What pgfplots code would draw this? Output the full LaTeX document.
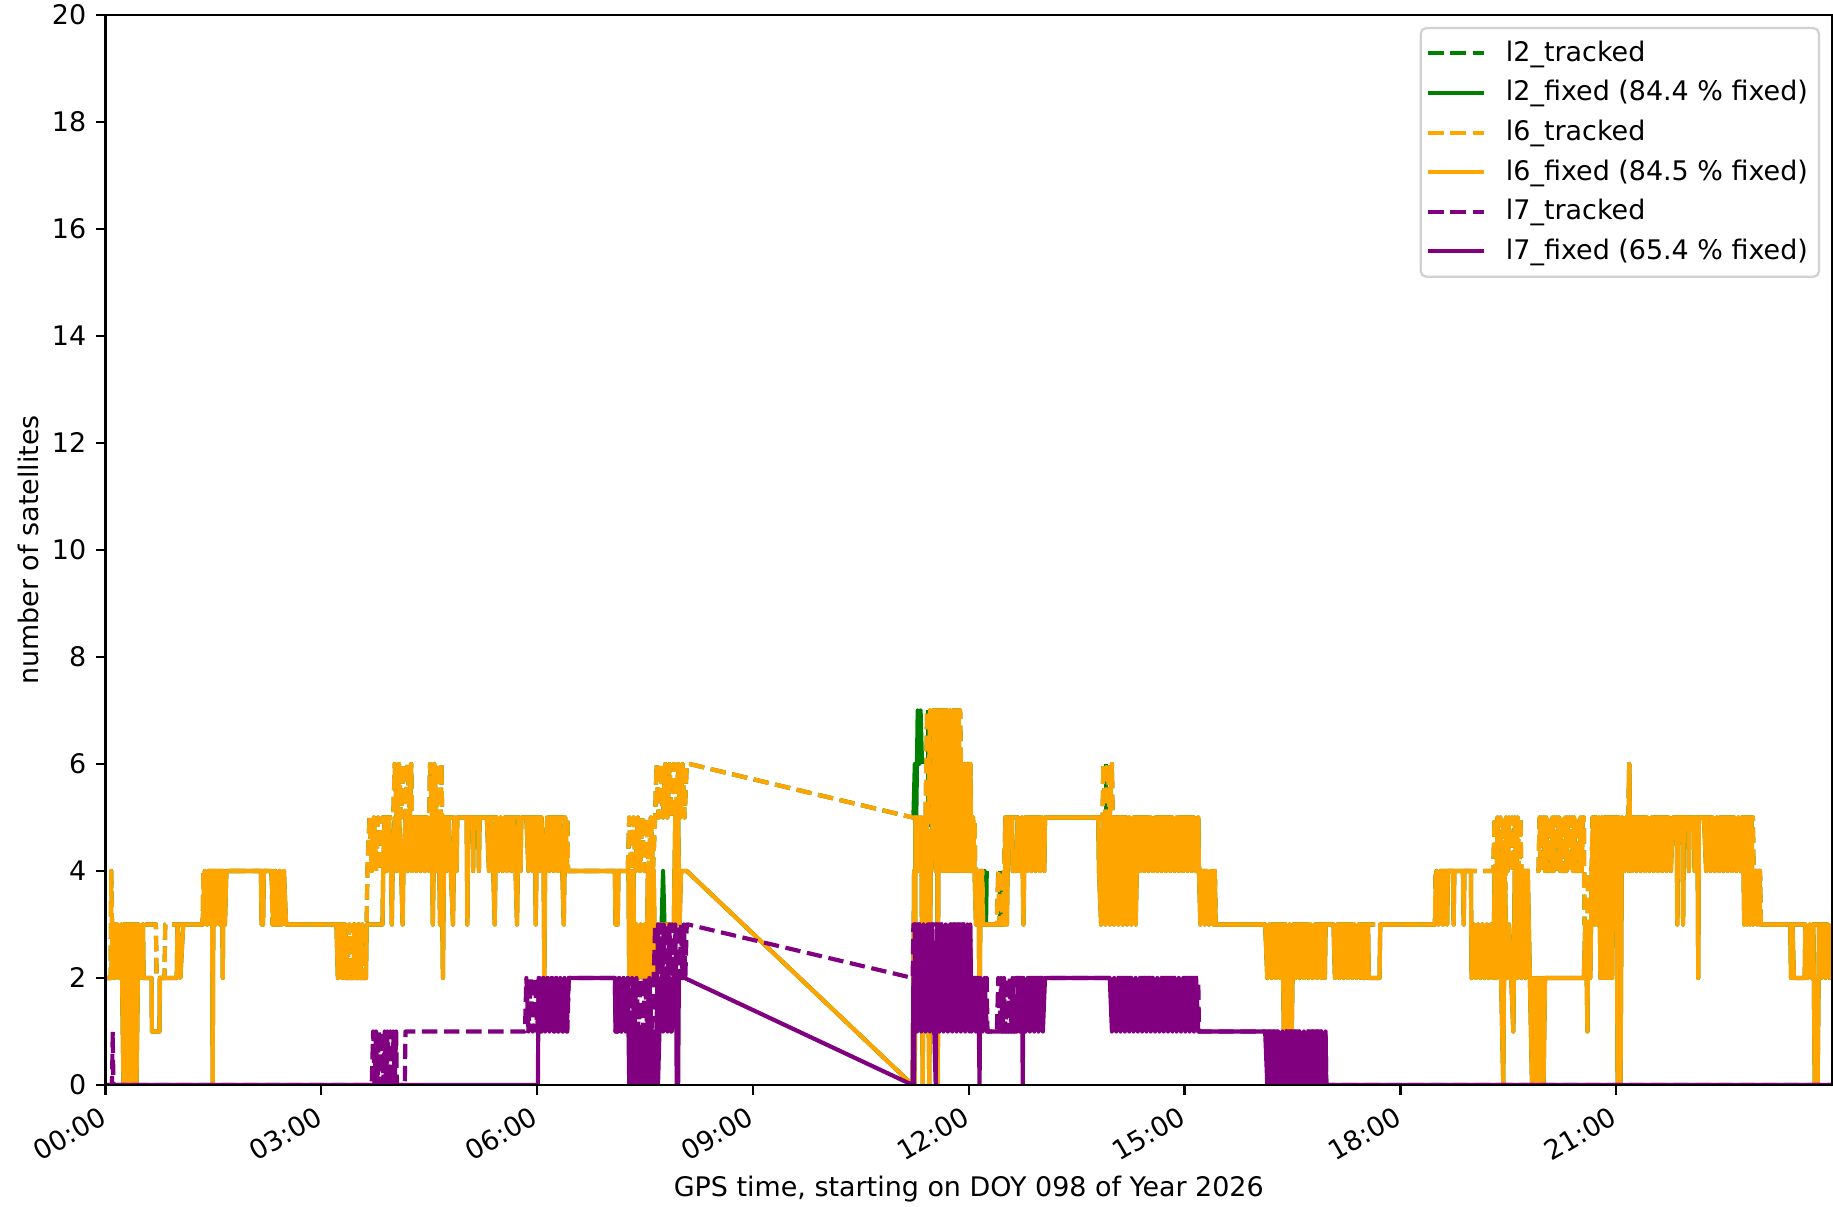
\documentclass[border=0pt]{standalone}
\usepackage{fontspec}
\setmainfont{DejaVu Sans}
\usepackage{pgfplots}
\usepackage{pgfplotstable}
\pgfplotsset{compat=1.18}

\definecolor{mplgreen}{RGB}{0,128,0}
\definecolor{mplorange}{RGB}{255,165,0}
\definecolor{mplpurple}{RGB}{128,0,128}

% hours since 00:00, number of satellites
% l6 fixed
\pgfplotstableread[row sep=\\]{
x y\\
0.00 2\\ 0.08 2\\ 0.10 3\\ 0.13 2\\ 0.16 3\\ 0.19 2\\ 0.22 3\\ 0.25 0\\ 0.28 3\\ 0.31 0\\ 0.34 3\\ 0.37 0\\ 0.40 3\\ 0.43 0\\ 0.46 3\\ 0.49 2\\ 0.52 3\\ 0.53 2\\
0.64 2\\ 0.645 1\\ 0.75 1\\ 0.755 2\\ 0.99 2\\ 1.00 3\\ 1.04 2\\ 1.08 3\\ 1.35 3\\
1.38 4\\ 1.41 3\\ 1.44 4\\ 1.47 3\\ 1.48 4\\ 1.49 0\\ 1.50 4\\ 1.53 3\\ 1.56 4\\ 1.59 3\\ 1.62 4\\ 1.63 2\\ 1.64 4\\ 1.66 3\\ 1.68 4\\
2.16 4\\ 2.17 3\\ 2.19 3\\ 2.20 4\\ 2.31 4\\ 2.33 3\\ 2.36 4\\ 2.39 3\\ 2.42 4\\ 2.45 3\\ 2.48 4\\ 2.51 3\\
3.21 3\\ 3.23 2\\ 3.26 3\\ 3.29 2\\ 3.32 3\\ 3.33 2\\ 3.45 2\\ 3.46 3\\ 3.47 2\\ 3.52 2\\ 3.53 3\\ 3.54 2\\ 3.62 2\\ 3.63 3\\ 3.85 3\\
3.86 4\\ 3.88 5\\ 3.91 4\\ 3.94 5\\ 3.97 4\\ 3.98 3\\ 3.99 4\\ 4.02 5\\ 4.05 4\\ 4.08 5\\ 4.11 4\\ 4.13 3\\ 4.14 4\\ 4.17 5\\ 4.20 4\\ 4.23 5\\ 4.26 4\\ 4.29 5\\ 4.32 4\\ 4.35 5\\
4.38 4\\ 4.41 5\\ 4.44 4\\ 4.47 5\\ 4.50 4\\ 4.53 5\\ 4.55 3\\ 4.57 5\\ 4.60 4\\ 4.63 5\\ 4.65 3\\ 4.67 5\\ 4.69 2\\ 4.71 5\\ 4.74 4\\ 4.77 5\\ 4.80 4\\ 4.83 3\\ 4.85 5\\ 4.88 4\\ 4.89 5\\
5.02 5\\ 5.03 3\\ 5.04 5\\ 5.10 5\\ 5.11 4\\ 5.12 5\\ 5.18 5\\ 5.19 4\\ 5.20 5\\ 5.30 5\\
5.33 4\\ 5.36 5\\ 5.39 4\\ 5.41 3\\ 5.43 5\\ 5.46 4\\ 5.49 5\\ 5.52 4\\ 5.55 5\\ 5.58 4\\ 5.61 5\\ 5.64 4\\ 5.67 5\\ 5.70 4\\ 5.72 3\\ 5.74 5\\ 5.77 4\\ 5.78 5\\ 5.85 5\\
5.88 4\\ 5.91 5\\ 5.94 4\\ 5.97 5\\ 5.98 3\\ 6.00 5\\ 6.03 4\\ 6.06 5\\ 6.09 4\\ 6.10 2\\ 6.11 4\\ 6.14 5\\ 6.17 4\\ 6.20 5\\ 6.23 4\\ 6.26 5\\ 6.29 4\\ 6.32 5\\ 6.35 4\\ 6.37 3\\ 6.39 5\\ 6.42 4\\
7.08 4\\ 7.09 3\\ 7.12 3\\ 7.13 4\\ 7.27 4\\ 7.28 2\\ 7.30 4\\ 7.32 2\\ 7.34 4\\ 7.35 2\\ 7.38 3\\ 7.41 2\\ 7.44 3\\ 7.47 2\\ 7.50 3\\ 7.52 2\\ 7.54 4\\ 7.56 2\\ 7.58 4\\ 7.60 2\\ 7.62 4\\ 7.64 2\\ 7.66 3\\
7.90 3\\ 7.92 5\\ 7.94 3\\ 7.96 5\\ 7.98 3\\ 8.00 4\\ 8.08 4\\
11.22 0\\ 11.24 4\\ 11.25 0\\ 11.26 5\\ 11.28 4\\ 11.30 5\\ 11.32 4\\ 11.34 5\\ 11.36 0\\ 11.38 5\\ 11.40 4\\ 11.42 5\\ 11.45 0\\ 11.47 4\\ 11.50 5\\
11.52 7\\ 11.54 4\\ 11.56 7\\ 11.57 0\\ 11.58 7\\ 11.60 4\\ 11.62 7\\ 11.64 4\\ 11.66 7\\ 11.68 4\\ 11.70 7\\ 11.72 4\\ 11.74 7\\ 11.76 4\\ 11.78 7\\ 11.80 4\\ 11.82 7\\ 11.84 4\\ 11.86 7\\ 11.88 4\\
11.90 6\\ 11.92 4\\ 11.94 6\\ 11.96 4\\ 11.98 6\\ 12.00 4\\ 12.02 6\\ 12.04 4\\ 12.06 5\\ 12.08 4\\
12.10 3\\ 12.12 4\\ 12.14 3\\ 12.15 1\\ 12.16 3\\ 12.18 4\\ 12.20 3\\ 12.50 3\\ 12.51 5\\ 12.53 3\\ 12.55 5\\ 12.60 5\\ 12.61 4\\ 12.66 4\\
12.68 5\\ 12.71 4\\ 12.74 5\\ 12.76 3\\ 12.78 5\\ 12.81 4\\ 12.84 5\\ 12.87 4\\ 12.90 5\\ 12.93 4\\ 12.96 5\\ 12.99 4\\ 13.02 5\\ 13.05 4\\ 13.06 5\\
13.80 5\\ 13.81 4\\ 13.84 3\\ 13.87 5\\ 13.90 3\\ 13.93 5\\ 13.96 3\\ 13.99 5\\ 14.02 3\\ 14.05 5\\ 14.08 3\\ 14.11 5\\ 14.14 3\\ 14.17 5\\ 14.20 3\\ 14.23 5\\ 14.26 3\\ 14.29 5\\ 14.32 3\\ 14.35 5\\
14.38 4\\ 14.41 5\\ 14.44 4\\ 14.47 5\\ 14.50 4\\ 14.53 5\\ 14.56 4\\ 14.59 5\\ 14.62 4\\ 14.65 5\\ 14.68 4\\ 14.71 5\\ 14.74 4\\ 14.77 5\\ 14.80 4\\ 14.83 5\\ 14.86 4\\ 14.89 5\\
14.92 4\\ 14.95 5\\ 14.98 4\\ 15.01 5\\ 15.04 4\\ 15.07 5\\ 15.10 4\\ 15.13 5\\ 15.16 4\\ 15.19 5\\
15.20 4\\ 15.22 3\\ 15.25 4\\ 15.28 3\\ 15.31 4\\ 15.34 3\\ 15.37 4\\ 15.40 3\\ 15.42 4\\ 15.43 3\\ 16.12 3\\
16.15 2\\ 16.18 3\\ 16.21 2\\ 16.24 3\\ 16.27 2\\ 16.30 3\\ 16.33 2\\ 16.36 3\\ 16.38 1\\ 16.40 3\\ 16.42 2\\ 16.44 1\\ 16.46 3\\ 16.49 1\\ 16.51 3\\ 16.54 2\\ 16.57 3\\ 16.60 2\\
16.63 3\\ 16.66 2\\ 16.69 3\\ 16.72 2\\ 16.75 3\\ 16.78 2\\ 16.81 3\\ 16.84 2\\ 16.87 3\\ 16.90 2\\ 16.93 3\\ 16.95 2\\ 16.96 3\\
17.07 3\\ 17.09 2\\ 17.12 3\\ 17.15 2\\ 17.18 3\\ 17.21 2\\ 17.24 3\\ 17.27 2\\ 17.30 3\\ 17.33 2\\ 17.36 3\\ 17.39 2\\ 17.42 3\\ 17.45 2\\ 17.47 3\\ 17.48 2\\ 17.51 2\\ 17.52 3\\ 17.55 3\\ 17.56 2\\ 17.71 2\\ 17.72 3\\
18.48 3\\ 18.50 4\\ 18.53 3\\ 18.56 4\\ 18.59 3\\ 18.62 4\\ 18.65 3\\ 18.66 4\\ 18.73 4\\ 18.74 3\\ 18.75 4\\ 18.87 4\\ 18.88 3\\ 18.89 4\\ 18.98 4\\
18.99 2\\ 19.02 3\\ 19.05 2\\ 19.08 3\\ 19.11 2\\ 19.14 3\\ 19.17 2\\ 19.20 3\\ 19.23 2\\ 19.26 3\\ 19.29 2\\ 19.31 4\\ 19.34 2\\ 19.37 4\\ 19.40 2\\ 19.43 0\\ 19.45 4\\ 19.48 2\\ 19.51 3\\ 19.54 2\\ 19.57 1\\
19.59 4\\ 19.62 2\\ 19.65 4\\ 19.68 2\\ 19.71 4\\ 19.74 2\\ 19.77 4\\ 19.80 2\\ 19.83 0\\ 19.85 2\\ 19.87 0\\ 19.89 2\\ 19.91 0\\ 19.93 2\\ 19.95 0\\ 19.97 2\\ 19.99 0\\ 20.01 2\\
20.55 2\\ 20.57 3\\ 20.59 2\\ 20.60 1\\ 20.61 3\\ 20.64 2\\ 20.66 4\\ 20.68 5\\ 20.70 3\\ 20.72 5\\ 20.74 3\\ 20.76 5\\ 20.78 2\\ 20.80 5\\ 20.82 2\\ 20.84 5\\ 20.86 2\\ 20.88 5\\ 20.90 2\\ 20.92 5\\ 20.94 2\\ 20.96 5\\ 20.98 3\\ 21.00 5\\ 21.02 0\\ 21.04 5\\ 21.06 0\\ 21.08 5\\
21.11 4\\ 21.14 5\\ 21.17 4\\ 21.18 6\\ 21.19 5\\ 21.22 4\\ 21.25 5\\ 21.28 4\\ 21.31 5\\ 21.34 4\\ 21.37 5\\ 21.40 4\\ 21.43 5\\ 21.46 4\\ 21.49 5\\ 21.52 4\\ 21.55 5\\ 21.58 4\\ 21.61 5\\ 21.64 4\\ 21.67 5\\ 21.70 4\\ 21.73 5\\ 21.76 4\\ 21.79 5\\
21.84 5\\ 21.85 3\\ 21.86 5\\ 21.92 5\\ 21.93 3\\ 21.94 5\\ 22.00 5\\ 22.01 4\\ 22.02 5\\ 22.08 5\\ 22.09 4\\ 22.10 5\\ 22.13 5\\ 22.14 2\\ 22.15 5\\ 22.22 5\\
22.25 4\\ 22.28 5\\ 22.31 4\\ 22.34 5\\ 22.37 4\\ 22.40 5\\ 22.43 4\\ 22.46 5\\ 22.49 4\\ 22.52 5\\ 22.55 4\\ 22.58 5\\ 22.61 4\\ 22.64 5\\ 22.67 4\\ 22.70 5\\ 22.73 4\\ 22.76 5\\
22.78 3\\ 22.80 5\\ 22.82 3\\ 22.84 5\\ 22.86 3\\ 22.88 5\\ 22.90 3\\ 22.93 4\\ 22.96 3\\ 22.99 4\\ 23.00 3\\
23.42 3\\ 23.43 2\\ 23.45 3\\ 23.47 2\\ 23.62 2\\ 23.63 3\\ 23.66 2\\ 23.69 3\\ 23.72 2\\ 23.74 3\\ 23.76 0\\ 23.78 2\\ 23.80 0\\ 23.82 3\\ 23.85 2\\ 23.88 3\\ 23.91 2\\ 23.94 3\\ 23.97 2\\ 24.00 3\\
}\lsixf

% l6 tracked
\pgfplotstableread[row sep=\\]{
x y\\
0.00 2\\ 0.07 2\\ 0.08 4\\ 0.09 3\\ 0.70 3\\ 0.71 2\\ 0.82 2\\ 0.83 3\\ 1.35 3\\ 1.36 4\\ 2.31 4\\ 2.32 3\\
3.33 3\\ 3.36 2\\ 3.39 3\\ 3.42 2\\ 3.45 3\\ 3.48 2\\ 3.51 3\\ 3.54 2\\ 3.57 3\\ 3.60 2\\ 3.63 3\\ 3.64 4\\
3.67 5\\ 3.70 4\\ 3.73 5\\ 3.76 4\\ 3.79 5\\ 3.82 4\\ 3.85 5\\ 4.00 5\\ 4.02 6\\ 4.05 5\\ 4.08 6\\ 4.11 5\\ 4.14 6\\ 4.17 5\\ 4.20 6\\ 4.23 5\\ 4.25 6\\ 4.26 5\\
4.50 5\\ 4.51 6\\ 4.54 5\\ 4.57 6\\ 4.60 5\\ 4.63 6\\ 4.66 5\\ 4.67 6\\ 4.68 5\\ 6.42 5\\ 6.43 4\\ 7.26 4\\
7.28 5\\ 7.31 4\\ 7.34 5\\ 7.37 4\\ 7.40 5\\ 7.43 4\\ 7.46 5\\ 7.49 4\\ 7.52 5\\ 7.55 4\\ 7.58 5\\ 7.61 4\\ 7.64 5\\
7.66 6\\ 7.69 5\\ 7.72 6\\ 7.75 5\\ 7.78 6\\ 7.81 5\\ 7.84 6\\ 7.87 5\\ 7.90 6\\ 7.93 5\\ 7.96 6\\ 7.99 5\\ 8.02 6\\ 8.05 5\\ 8.08 6\\ 8.12 6\\
11.22 5\\ 11.40 5\\ 11.42 7\\ 11.44 5\\ 11.46 7\\ 11.48 4\\ 11.50 7\\ 11.88 7\\ 11.89 6\\ 12.02 6\\ 12.03 5\\ 12.08 5\\ 12.09 4\\ 12.19 4\\ 12.20 3\\ 12.39 3\\
12.41 4\\ 12.43 3\\ 12.45 4\\ 12.47 3\\ 12.49 4\\ 12.51 5\\ 13.86 5\\ 13.87 6\\ 13.90 5\\ 13.93 6\\ 13.96 5\\ 13.99 6\\ 14.00 5\\ 15.19 5\\ 15.20 4\\ 15.42 4\\ 15.43 3\\ 18.48 3\\ 18.49 4\\ 19.29 4\\
19.31 5\\ 19.33 3\\ 19.35 5\\ 19.37 3\\ 19.39 5\\ 19.41 3\\ 19.43 5\\ 19.45 3\\ 19.47 5\\ 19.49 4\\ 19.51 5\\ 19.53 4\\ 19.55 5\\ 19.57 4\\ 19.59 5\\ 19.61 4\\ 19.63 5\\ 19.65 4\\ 19.67 5\\ 19.68 4\\ 19.92 4\\
19.935 5\\ 19.95 4\\ 19.965 5\\ 19.98 4\\ 19.995 5\\ 20.01 4\\ 20.025 5\\ 20.04 4\\ 20.055 5\\ 20.07 4\\ 20.085 5\\ 20.10 4\\ 20.115 5\\ 20.13 4\\ 20.145 5\\ 20.16 4\\ 20.175 5\\ 20.19 4\\ 20.205 5\\ 20.22 4\\ 20.235 5\\
20.25 4\\ 20.265 5\\ 20.28 4\\ 20.295 5\\ 20.31 4\\ 20.325 5\\ 20.34 4\\ 20.355 5\\ 20.37 4\\ 20.385 5\\ 20.40 4\\ 20.415 5\\ 20.43 4\\ 20.445 5\\ 20.46 4\\ 20.475 5\\ 20.49 4\\ 20.505 5\\ 20.52 4\\ 20.535 5\\
20.55 5\\ 20.56 3\\ 20.60 3\\ 20.61 4\\ 20.66 4\\ 20.67 5\\ 21.17 5\\ 21.18 6\\ 21.19 5\\ 22.90 5\\ 22.91 4\\ 23.00 4\\ 23.01 3\\ 24.00 3\\
}\lsixt

% l7 fixed
\pgfplotstableread[row sep=\\]{
x y\\
0.00 0\\ 6.01 0\\ 6.02 2\\ 6.05 1\\ 6.08 2\\ 6.11 1\\ 6.14 2\\ 6.17 1\\ 6.20 2\\ 6.23 1\\ 6.26 2\\ 6.29 1\\ 6.32 2\\ 6.35 1\\ 6.38 2\\ 6.41 1\\ 6.44 2\\
7.08 2\\ 7.09 1\\ 7.12 1\\ 7.14 2\\ 7.17 1\\ 7.20 2\\ 7.23 1\\ 7.26 2\\
7.28 0\\ 7.30 1\\ 7.32 0\\ 7.34 1\\ 7.36 0\\ 7.38 1\\ 7.40 0\\ 7.42 1\\ 7.44 0\\ 7.46 1\\ 7.48 0\\ 7.50 1\\ 7.52 0\\ 7.54 1\\ 7.56 0\\ 7.58 1\\ 7.60 0\\ 7.62 1\\ 7.64 0\\ 7.66 1\\ 7.68 0\\ 7.70 1\\
7.72 2\\ 7.75 1\\ 7.78 2\\ 7.81 1\\ 7.84 2\\ 7.87 1\\ 7.90 2\\ 7.93 2\\ 7.94 0\\ 7.96 0\\ 7.97 2\\ 8.05 2\\
11.22 0\\ 11.23 2\\ 11.24 0\\ 11.25 3\\ 11.28 1\\ 11.31 3\\ 11.34 1\\ 11.37 3\\ 11.40 1\\ 11.43 3\\ 11.46 1\\ 11.49 3\\ 11.52 1\\ 11.54 0\\ 11.56 3\\ 11.59 1\\ 11.62 3\\ 11.65 1\\
11.68 3\\ 11.71 1\\ 11.74 3\\ 11.77 1\\ 11.80 3\\ 11.83 1\\ 11.86 3\\ 11.89 1\\ 11.92 3\\ 11.95 1\\ 11.98 3\\ 12.01 1\\ 12.02 3\\
12.04 1\\ 12.07 2\\ 12.10 1\\ 12.13 2\\ 12.15 0\\ 12.16 2\\ 12.19 1\\ 12.22 2\\ 12.25 1\\ 12.67 1\\
12.68 2\\ 12.71 1\\ 12.74 2\\ 12.75 0\\ 12.76 2\\ 12.79 1\\ 12.82 2\\ 12.85 1\\ 12.88 2\\ 12.91 1\\ 12.94 2\\ 12.97 1\\ 13.00 2\\ 13.03 1\\ 13.06 2\\ 13.96 2\\
13.99 1\\ 14.02 2\\ 14.05 1\\ 14.08 2\\ 14.11 1\\ 14.14 2\\ 14.17 1\\ 14.20 2\\ 14.23 1\\ 14.26 2\\ 14.29 1\\ 14.32 2\\ 14.35 1\\ 14.38 2\\ 14.41 1\\ 14.44 2\\ 14.47 1\\ 14.50 2\\ 14.53 1\\ 14.56 2\\
14.59 1\\ 14.62 2\\ 14.65 1\\ 14.68 2\\ 14.71 1\\ 14.74 2\\ 14.77 1\\ 14.80 2\\ 14.83 1\\ 14.86 2\\ 14.89 1\\ 14.92 2\\ 14.95 1\\ 14.98 2\\ 15.01 1\\ 15.04 2\\ 15.07 1\\ 15.10 2\\ 15.13 1\\ 15.16 2\\ 15.19 1\\ 16.12 1\\
16.15 0\\ 16.18 1\\ 16.21 0\\ 16.24 1\\ 16.27 0\\ 16.30 1\\ 16.33 0\\ 16.36 1\\ 16.39 0\\ 16.42 1\\ 16.45 0\\ 16.48 1\\ 16.51 0\\ 16.54 1\\ 16.57 0\\ 16.60 1\\ 16.63 0\\ 16.66 1\\
16.69 0\\ 16.72 1\\ 16.75 0\\ 16.78 1\\ 16.81 0\\ 16.84 1\\ 16.87 0\\ 16.90 1\\ 16.93 0\\ 16.96 1\\ 16.97 0\\ 24.00 0\\
}\lsevenf

% l7 tracked
\pgfplotstableread[row sep=\\]{
x y\\
0.00 0\\ 0.09 0\\ 0.10 1\\ 0.11 0\\ 3.70 0\\
3.72 1\\ 3.74 0\\ 3.76 1\\ 3.78 0\\ 3.80 1\\ 3.82 0\\ 3.84 1\\ 3.86 0\\ 3.88 1\\ 3.90 0\\ 3.92 1\\ 3.94 0\\ 3.96 1\\ 3.98 0\\ 4.00 1\\ 4.02 0\\ 4.04 1\\ 4.05 0\\ 4.16 0\\ 4.17 1\\ 5.83 1\\
5.85 2\\ 5.88 1\\ 5.91 2\\ 5.94 1\\ 5.97 2\\ 6.00 1\\ 6.03 2\\ 6.06 1\\ 6.09 2\\ 6.12 1\\ 6.15 2\\ 6.18 1\\ 6.21 2\\ 6.24 1\\ 6.27 2\\ 6.30 1\\ 6.33 2\\ 6.36 1\\ 6.39 2\\ 6.42 1\\ 6.44 2\\
7.08 2\\ 7.09 1\\ 7.12 1\\
7.14 2\\ 7.17 1\\ 7.20 2\\ 7.23 1\\ 7.26 2\\ 7.29 1\\ 7.32 2\\ 7.35 1\\ 7.38 2\\ 7.41 1\\ 7.44 2\\ 7.47 1\\ 7.50 2\\ 7.53 1\\ 7.56 2\\ 7.59 1\\ 7.62 2\\
7.64 3\\ 7.66 1\\ 7.68 3\\ 7.70 1\\ 7.72 3\\ 7.74 2\\ 7.76 3\\ 7.78 1\\ 7.80 3\\ 7.82 2\\ 7.84 3\\ 7.86 1\\ 7.88 3\\ 7.90 2\\ 7.92 3\\ 7.94 1\\ 7.96 3\\ 7.98 2\\ 8.00 3\\ 8.02 2\\ 8.04 3\\ 8.06 2\\ 8.08 3\\ 8.10 3\\
11.22 2\\ 11.23 3\\ 12.02 3\\ 12.03 2\\ 12.25 2\\ 12.26 1\\ 12.39 1\\
12.41 2\\ 12.43 1\\ 12.45 2\\ 12.47 1\\ 12.49 2\\ 12.51 1\\ 12.53 2\\ 12.55 1\\ 12.57 2\\ 12.59 1\\ 12.61 2\\ 12.63 1\\ 12.65 2\\ 12.67 2\\
15.19 2\\ 15.20 1\\ 16.96 1\\ 16.97 0\\ 24.00 0\\
}\lsevent

\pgfplotsset{
  trk/.style={line width=1.5pt, dash pattern=on 5.55pt off 2.4pt, line join=round},
  fix/.style={line width=1.5pt, line join=round},
}

\begin{document}
\fontsize{9.7}{11.6}\selectfont
\begin{tikzpicture}
\begin{axis}[
  name=ax,
  scale only axis,
  width=621.7pt, height=385.3pt,
  xmin=0, xmax=24, ymin=0, ymax=20,
  xtick={0,3,6,9,12,15,18,21},
  xticklabels={00:00,03:00,06:00,09:00,12:00,15:00,18:00,21:00},
  ytick={0,2,4,6,8,10,12,14,16,18,20},
  tick align=outside, tick pos=left,
  major tick length=3.5pt,
  every tick/.style={black, line width=0.8pt},
  axis line style={line width=0.8pt},
  axis on top,
  /pgf/number format/assume math mode=true,
  xticklabel style={xshift=-2.6pt, yshift=-3.6pt, rotate=30, anchor=north east, inner sep=0pt},
  xlabel={GPS time, starting on DOY 098 of Year 2026},
  ylabel={number of satellites},
  xlabel style={at={([yshift=-40.2pt]axis description cs:0.5,0)}, anchor=base},
  ylabel style={at={([xshift=-27.7pt]axis description cs:0,0.5)}, anchor=center},
  legend cell align=left,
  legend image code/.code={\draw[#1] (0pt,0pt) -- (20pt,0pt); \path (25.2pt,0pt);},
  legend style={
    at={([xshift=-4.3pt,yshift=-4.3pt]rel axis cs:1,1)}, anchor=north east,
    draw=black!18, line width=0.8pt, rounded corners=2pt,
    fill=white, fill opacity=0.8, text opacity=1,
    inner xsep=2pt, inner ysep=2pt, row sep=0pt,
    nodes={inner sep=2pt, text height=8pt, text depth=2.26pt},
  },
]
\addplot[mplgreen, trk] table[x=x, y=y] {\lsixt};
\addlegendentry{l2\_tracked}
\addplot[mplgreen, fix] table[x=x, y=y] {\lsixf};
\addlegendentry{l2\_fixed (84.4 \% fixed)}
% where l2 differs from l6
\addplot[mplgreen, fix, forget plot] coordinates {(7.73,3) (7.75,4) (7.77,3)};
\addplot[mplgreen, fix, forget plot] coordinates {(11.23,5) (11.25,6) (11.27,5) (11.29,7) (11.31,6) (11.33,7) (11.35,6)};
\addplot[mplgreen, fix, forget plot] coordinates {(12.20,3) (12.22,4) (12.24,3) (12.25,4)};
\addplot[mplgreen, trk, forget plot] coordinates {(11.43,4) (11.43,7)};
\addplot[mplgreen, trk, forget plot] coordinates {(12.44,3) (12.44,4)};
\addplot[mplgreen, trk, forget plot] coordinates {(13.91,5) (13.91,6)};
\addplot[mplgreen, trk, forget plot] coordinates {(19.33,3) (19.33,5)};
\addplot[mplorange, trk] table[x=x, y=y] {\lsixt};
\addlegendentry{l6\_tracked}
\addplot[mplorange, fix] table[x=x, y=y] {\lsixf};
\addlegendentry{l6\_fixed (84.5 \% fixed)}
\addplot[mplpurple, trk] table[x=x, y=y] {\lsevent};
\addlegendentry{l7\_tracked}
\addplot[mplpurple, fix] table[x=x, y=y] {\lsevenf};
\addlegendentry{l7\_fixed (65.4 \% fixed)}
\end{axis}
\pgfresetboundingbox
\path ([xshift=-38.0pt,yshift=-43.6pt]ax.south west) rectangle ([xshift=0.36pt,yshift=5.4pt]ax.north east);
\end{tikzpicture}
\end{document}
